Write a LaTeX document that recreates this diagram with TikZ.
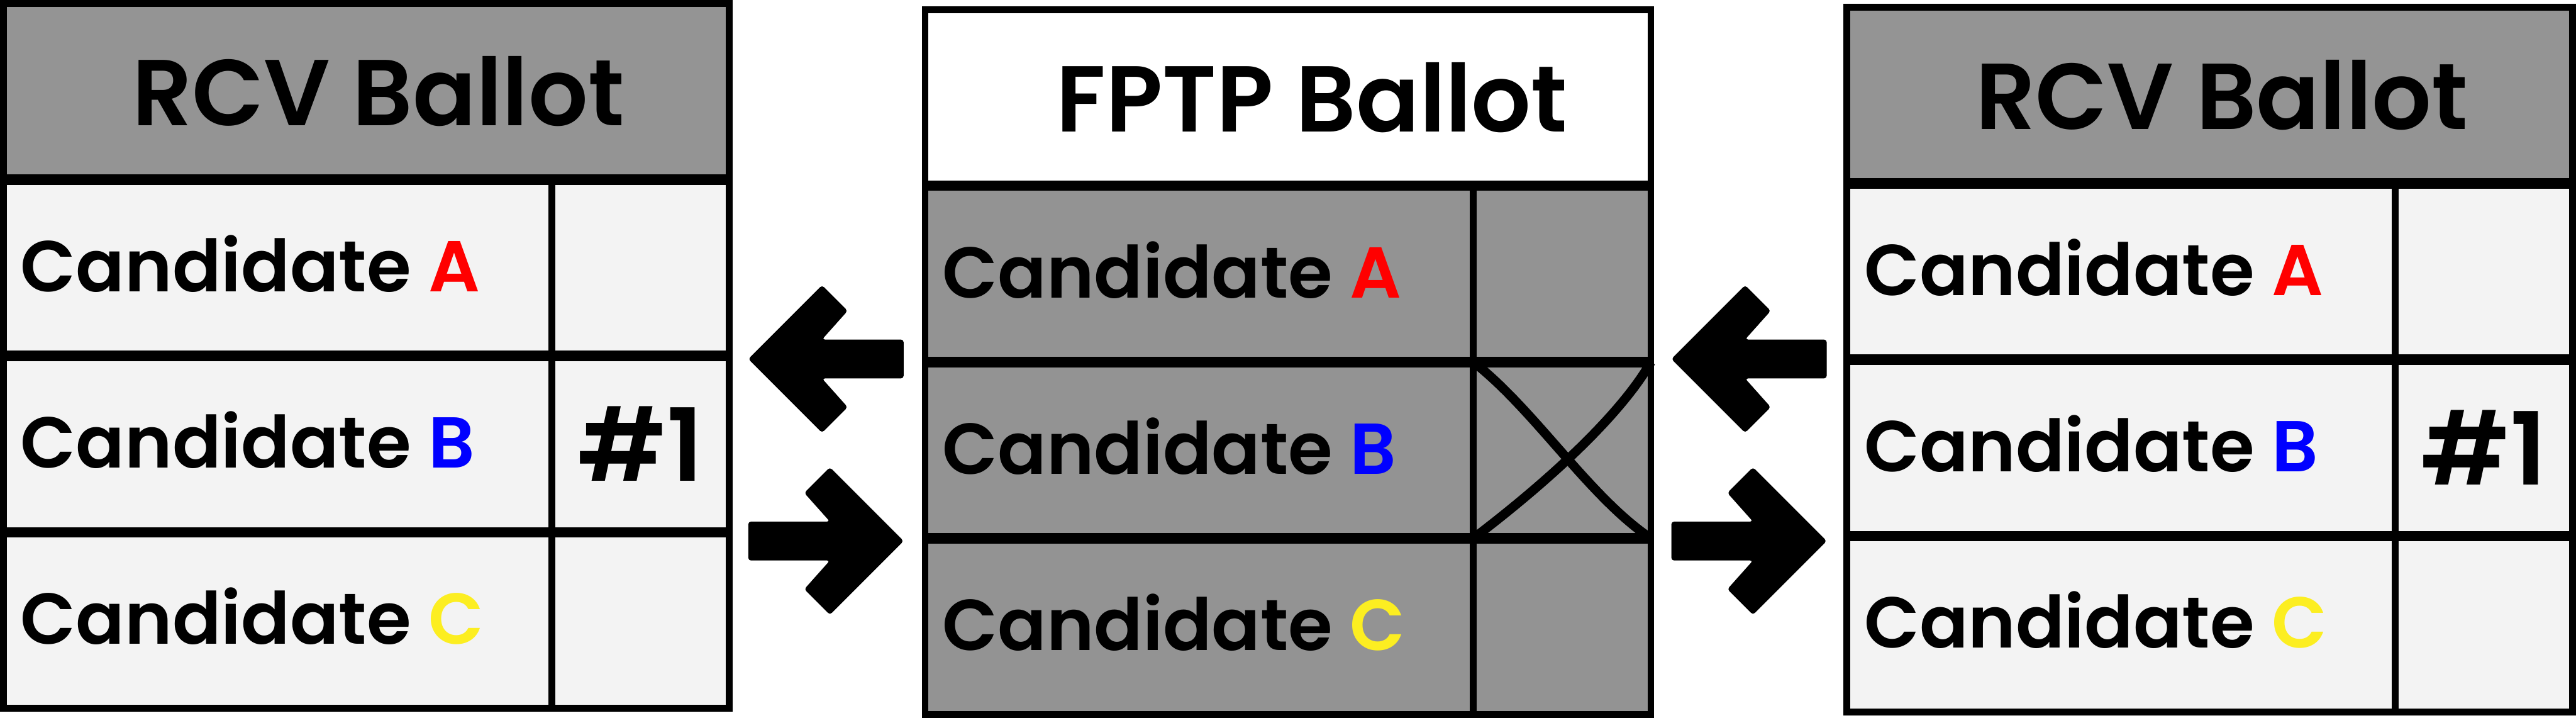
\documentclass[tikz,border=0pt]{standalone}
\usepackage{fontspec}
\setmainfont{Poppins}[BoldFont={Poppins SemiBold}]
\usepackage{tikz}
\usetikzlibrary{positioning}
\definecolor{headgray}{HTML}{949494}
\definecolor{cellgray}{HTML}{F3F3F3}
\definecolor{fptpgray}{HTML}{939393}
\definecolor{candred}{HTML}{FF0000}
\definecolor{candblue}{HTML}{0000FF}
\definecolor{candyellow}{HTML}{FCEE21}
\tikzset{
    header/.style={
        fill=headgray, inner sep=0pt, outer sep=0pt,
        minimum width=21.26cm, minimum height=5.16cm
    },
    namecell/.style={
        fill=cellgray, inner sep=0pt, outer sep=0pt,
        minimum width=16.06cm, minimum height=5.16cm
    },
    markcell/.style={
        fill=cellgray, inner sep=0pt, outer sep=0pt,
        minimum width=5.20cm, minimum height=5.16cm,
        font=\fontsize{84}{84}\selectfont\bfseries
    },
    titletext/.style={inner sep=0pt, font=\fontsize{78}{78}\selectfont\bfseries},
    candname/.style={inner sep=0pt, yshift=0.12cm, font=\fontsize{60}{60}\selectfont\bfseries},
    frame/.style={line width=0.2cm},
    rowline/.style={line width=0.3cm},
    xmark/.style={line width=0.27cm},
    blockarrow/.style={fill=black, rounded corners=0.08cm},
    backarrow/.pic={
        \fill[blockarrow] (0,0) -- (2.16,2.16) -- (2.91,1.41) -- (2.16,0.57)
            -- (4.55,0.57) -- (4.55,-0.57) -- (2.16,-0.57) -- (2.91,-1.41)
            -- (2.16,-2.16) -- cycle;
    },
}

\begin{document}
\begin{tikzpicture}
    \useasboundingbox (0,0) rectangle (75.46,21.01);

    % left RCV ballot
    \node[header, anchor=north west] (lhead) at (0.10,20.91) {};
    \node[titletext] (ltitle) at ([xshift=0.35cm]lhead.center) {RCV Ballot};
    \node[namecell, below right=0cm and 0cm of lhead.south west] (lA) {};
    \node[markcell, right=0cm of lA] (lmA) {};
    \node[namecell, below=0cm of lA] (lB) {};
    \node[markcell, right=0cm of lB] (lmB) {\#1};
    \node[namecell, below=0cm of lB] (lC) {};
    \node[markcell, right=0cm of lC] (lmC) {};
    \node[candname, right=0.5cm of lA.west] (lnA) {Candidate \textcolor{candred}{A}};
    \node[candname, right=0.5cm of lB.west] (lnB) {Candidate \textcolor{candblue}{B}};
    \node[candname, right=0.5cm of lC.west] (lnC) {Candidate \textcolor{candyellow}{C}};
    \draw[rowline] (lhead.south west) -- (lhead.south east);
    \draw[rowline] (lA.south west) -- (lmA.south east);
    \draw[rowline] (lB.south west) -- (lmB.south east);
    \draw[frame] (lA.north east) -- (lC.south east);
    \draw[frame] (lhead.north west) rectangle (lmC.south east);

    % middle FPTP ballot
    \node[header, fill=white, anchor=north west] (mhead) at (27.10,20.73) {};
    \node[titletext] (mtitle) at ([xshift=0.7cm]mhead.center) {FPTP Ballot};
    \node[namecell, fill=fptpgray, below right=0cm and 0cm of mhead.south west] (mA) {};
    \node[markcell, fill=fptpgray, right=0cm of mA] (mmA) {};
    \node[namecell, fill=fptpgray, below=0cm of mA] (mB) {};
    \node[markcell, fill=fptpgray, right=0cm of mB] (mmB) {};
    \node[namecell, fill=fptpgray, below=0cm of mB] (mC) {};
    \node[markcell, fill=fptpgray, right=0cm of mC] (mmC) {};
    \node[candname, right=0.5cm of mA.west] (mnA) {Candidate \textcolor{candred}{A}};
    \node[candname, right=0.5cm of mB.west] (mnB) {Candidate \textcolor{candblue}{B}};
    \node[candname, right=0.5cm of mC.west] (mnC) {Candidate \textcolor{candyellow}{C}};
    \draw[xmark] (mmB.north west) .. controls +(1.8,-1.4) and +(-1.8,1.2) .. (mmB.south east);
    \draw[xmark] (mmB.south west) .. controls +(2.5,1.9) and +(-0.8,-1.4) .. (mmB.north east);
    \draw[rowline] (mhead.south west) -- (mhead.south east);
    \draw[rowline] (mA.south west) -- (mmA.south east);
    \draw[rowline] (mB.south west) -- (mmB.south east);
    \draw[frame] (mA.north east) -- (mC.south east);
    \draw[frame] (mhead.north west) rectangle (mmC.south east);

    % right RCV ballot
    \node[header, anchor=north west] (rhead) at (54.10,20.80) {};
    \node[titletext] (rtitle) at ([xshift=0.35cm]rhead.center) {RCV Ballot};
    \node[namecell, below right=0cm and 0cm of rhead.south west] (rA) {};
    \node[markcell, right=0cm of rA] (rmA) {};
    \node[namecell, below=0cm of rA] (rB) {};
    \node[markcell, right=0cm of rB] (rmB) {\#1};
    \node[namecell, below=0cm of rB] (rC) {};
    \node[markcell, right=0cm of rC] (rmC) {};
    \node[candname, right=0.5cm of rA.west] (rnA) {Candidate \textcolor{candred}{A}};
    \node[candname, right=0.5cm of rB.west] (rnB) {Candidate \textcolor{candblue}{B}};
    \node[candname, right=0.5cm of rC.west] (rnC) {Candidate \textcolor{candyellow}{C}};
    \draw[rowline] (rhead.south west) -- (rhead.south east);
    \draw[rowline] (rA.south west) -- (rmA.south east);
    \draw[rowline] (rB.south west) -- (rmB.south east);
    \draw[frame] (rA.north east) -- (rC.south east);
    \draw[frame] (rhead.north west) rectangle (rmC.south east);

    % arrows between ballots
    \pic at (21.92,10.50) {backarrow};
    \pic[xscale=-1] at (26.47,5.17) {backarrow};
    \pic at (48.96,10.50) {backarrow};
    \pic[xscale=-1] at (53.51,5.17) {backarrow};
\end{tikzpicture}
\end{document}
